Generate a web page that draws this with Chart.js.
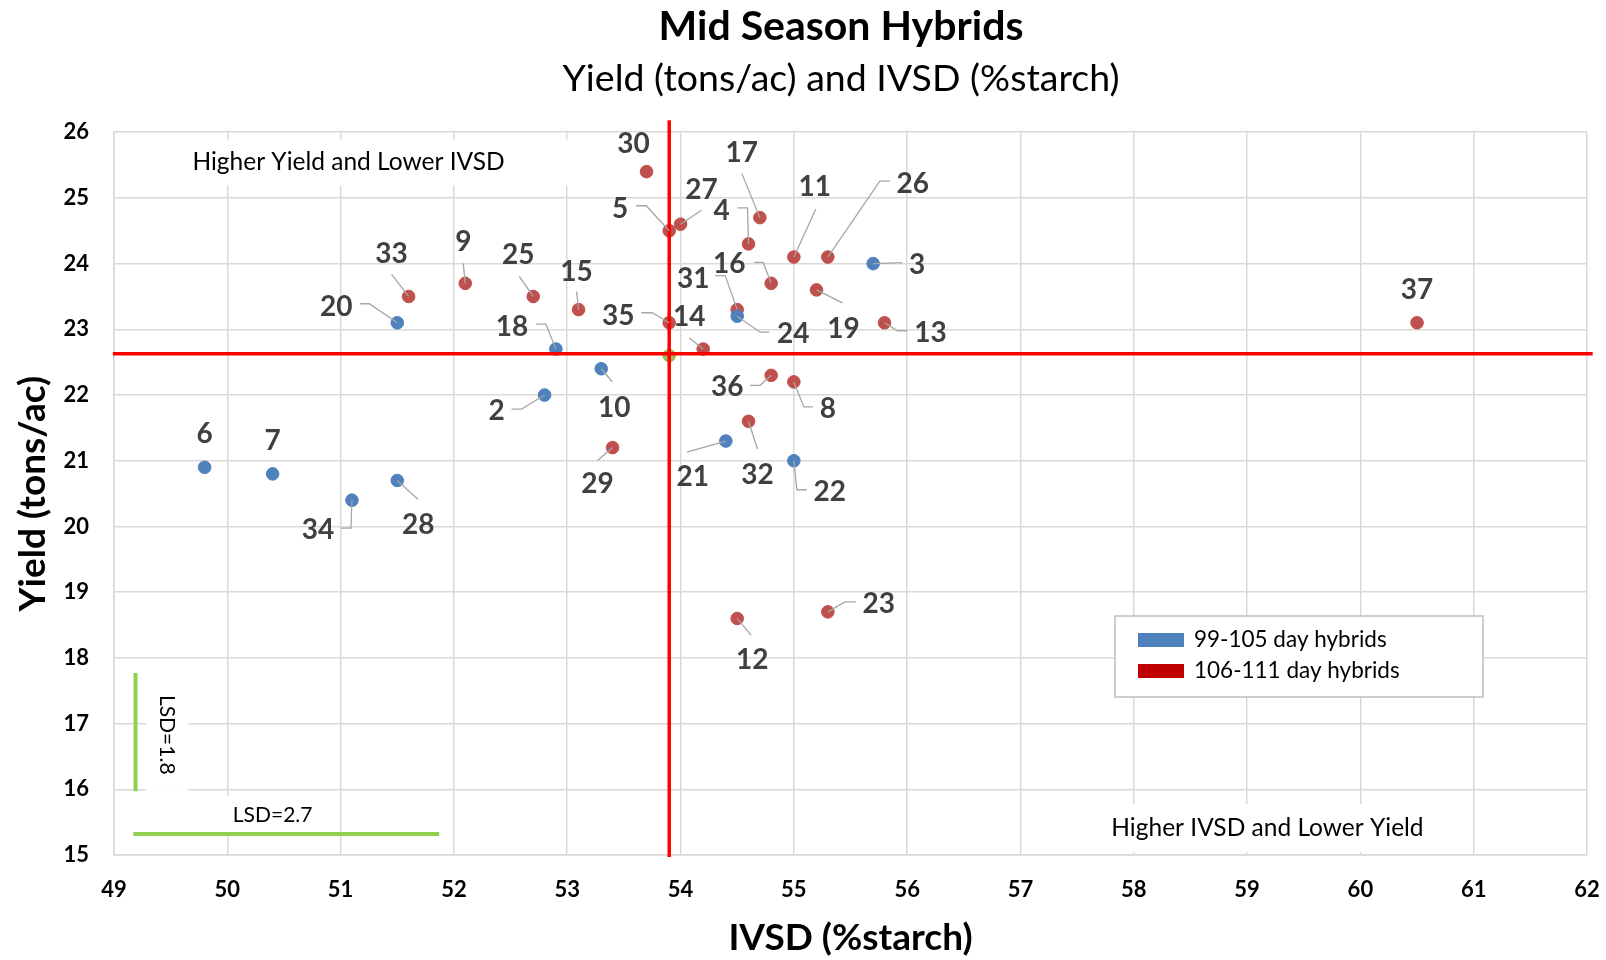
<!DOCTYPE html>
<html>
<head>
<meta charset="utf-8">
<title>Mid Season Hybrids</title>
<script src="https://cdn.jsdelivr.net/npm/chart.js@4.4.1/dist/chart.umd.min.js"></script>
<style>
  html, body { margin: 0; padding: 0; background: #fff; }
  #wrap { width: 1606px; height: 960px; }
</style>
</head>
<body>
<div id="wrap"><canvas id="chart" width="1606" height="960"></canvas></div>
<script>
// 99-105 day hybrids
const earlyIds = [2, 3, 6, 7, 10, 18, 20, 21, 22, 24, 28, 34];
const earlyIvsd = [52.8, 55.7, 49.8, 50.4, 53.3, 52.9, 51.5, 54.4, 55.0, 54.5, 51.5, 51.1];
const earlyYield = [22.0, 24.0, 20.9, 20.8, 22.4, 22.7, 23.1, 21.3, 21.0, 23.2, 20.7, 20.4];

// 106-111 day hybrids
const lateIds = [4, 5, 8, 9, 11, 12, 13, 14, 15, 16, 17, 19, 23, 25, 26, 27, 29, 30, 31, 32, 33, 35, 36, 37];
const lateIvsd = [54.6, 53.9, 55.0, 52.1, 55.0, 54.5, 55.8, 54.2, 53.1, 54.8, 54.7, 55.2, 55.3, 52.7, 55.3, 54.0, 53.4, 53.7, 54.5, 54.6, 51.6, 53.9, 54.8, 60.5];
const lateYield = [24.3, 24.5, 22.2, 23.7, 24.1, 18.6, 23.1, 22.7, 23.3, 23.7, 24.7, 23.6, 18.7, 23.5, 24.1, 24.6, 21.2, 25.4, 23.3, 21.6, 23.5, 23.1, 22.3, 23.1];

// trial mean, where the red quadrant lines cross
const meanIvsd = [53.9];
const meanYield = [22.6];
const quadIvsd = 53.9;
const quadYield = 22.63;

// LSD bars
const lsdYieldX = [49.19, 49.19];
const lsdYieldY = [15.97, 17.77];
const lsdIvsdX = [49.17, 51.87];
const lsdIvsdY = [15.32, 15.32];

// axes
const xMin = 49, xMax = 62;
const yMin = 15, yMax = 26;

const legendLabels = ['99-105 day hybrids', '106-111 day hybrids'];
const legendColors = ['#4F81BD', '#C00000'];

// where each number sits relative to its point (px), and its leader line
const labelLayout = {
  2: { dx: -48, dy: 15, leader: [[-33, 14], [-23, 14]] },
  3: { dx: 44, dy: 0, leader: [[29, -1]] },
  4: { dx: -27, dy: -34, leader: [[-11, -36], [-1, -36]] },
  5: { dx: -49, dy: -23, leader: [[-33, -25], [-23, -25]] },
  6: { dx: 0, dy: -34 },
  7: { dx: 0, dy: -34 },
  8: { dx: 34, dy: 26, leader: [[19, 25], [10, 25]] },
  9: { dx: -2, dy: -42, leader: [[-2, -20]] },
  10: { dx: 13, dy: 38, leader: [[11, 13]] },
  11: { dx: 21, dy: -71, leader: [[22, -48]] },
  12: { dx: 15, dy: 41, leader: [[14, 17]] },
  13: { dx: 46, dy: 9, leader: [[23, 8], [13, 8]] },
  14: { dx: -14, dy: -33, leader: [[-14, -11]] },
  15: { dx: -2, dy: -39, leader: [[-2, -18]] },
  16: { dx: -42, dy: -20, leader: [[-17, -21], [-8, -21]] },
  17: { dx: -18, dy: -66, leader: [[-18, -44]] },
  18: { dx: -44, dy: -23, leader: [[-20, -25], [-10, -25]] },
  19: { dx: 27, dy: 38, leader: [[26, 13]] },
  20: { dx: -61, dy: -17, leader: [[-37, -19], [-28, -19]] },
  21: { dx: -33, dy: 35, leader: [[-39, 11]] },
  22: { dx: 36, dy: 30, leader: [[13, 29], [3, 29]] },
  23: { dx: 51, dy: -9, leader: [[28, -10], [17, -10]] },
  24: { dx: 56, dy: 17, leader: [[32, 16], [23, 16]] },
  25: { dx: -15, dy: -42, leader: [[-14, -20]] },
  26: { dx: 85, dy: -74, leader: [[62, -76], [52, -76]] },
  27: { dx: 21, dy: -35, leader: [[21, -14]] },
  28: { dx: 21, dy: 44, leader: [[21, 19]] },
  29: { dx: -15, dy: 35, leader: [[-15, 13]] },
  30: { dx: -13, dy: -29 },
  31: { dx: -44, dy: -32, leader: [[-22, -34], [-12, -34]] },
  32: { dx: 9, dy: 53, leader: [[9, 28]] },
  33: { dx: -17, dy: -43, leader: [[-17, -22]] },
  34: { dx: -34, dy: 29, leader: [[-11, 28], [-1, 28]] },
  35: { dx: -51, dy: -8, leader: [[-28, -10], [-17, -10]] },
  36: { dx: -44, dy: 11, leader: [[-21, 10], [-11, 10]] },
  37: { dx: 0, dy: -34 }
};

// text boxes drawn on the plot (white fill hides the grid)
const notes = [
  { text: 'Higher Yield and Lower IVSD', x: 51.07, y: 25.54, w: 460, h: 46, size: 24.5, rot: 0 },
  { text: 'Higher IVSD and Lower Yield', x: 59.18, y: 15.41, w: 345, h: 48, size: 24.5, rot: 0 },
  { text: 'LSD=1.8', x: 49.47, y: 16.83, w: 42, h: 112, size: 21, rot: Math.PI / 2 },
  { text: 'LSD=2.7', x: 50.40, y: 15.61, w: 116, h: 38, size: 21, rot: 0 }
];

const fontFamily = 'Lato, "Open Sans", sans-serif';

const toPoints = (xs, ys) => xs.map((x, i) => ({ x: x, y: ys[i] }));

// the original titles are centred a bit right of the canvas middle
const shiftTitles = {
  id: 'shiftTitles',
  afterLayout(chart) {
    chart.boxes.filter(b => b.position === 'top').forEach(b => {
      b.left = 95;
    });
  }
};

const notesPlugin = {
  id: 'notes',
  beforeDatasetsDraw(chart) {
    const ctx = chart.ctx;
    const xs = chart.scales.x, ys = chart.scales.y;
    notes.forEach(n => {
      const cx = xs.getPixelForValue(n.x);
      const cy = ys.getPixelForValue(n.y);
      ctx.save();
      ctx.translate(cx, cy);
      ctx.fillStyle = '#fff';
      ctx.fillRect(-n.w / 2, -n.h / 2, n.w, n.h);
      ctx.rotate(n.rot);
      ctx.fillStyle = '#000';
      ctx.font = n.size + 'px ' + fontFamily;
      ctx.textAlign = 'center';
      ctx.textBaseline = 'middle';
      ctx.fillText(n.text, 0, 0);
      ctx.restore();
    });
  }
};

const pointLabels = {
  id: 'pointLabels',
  afterDatasetsDraw(chart) {
    const ctx = chart.ctx;
    ctx.save();
    [[2, earlyIds], [3, lateIds]].forEach(([di, ids]) => {
      const meta = chart.getDatasetMeta(di);
      meta.data.forEach((pt, i) => {
        const lay = labelLayout[ids[i]];
        if (lay.leader) {
          ctx.strokeStyle = '#A6A6A6';
          ctx.lineWidth = 1.3;
          ctx.beginPath();
          ctx.moveTo(pt.x + lay.leader[0][0], pt.y + lay.leader[0][1]);
          lay.leader.slice(1).forEach(p => ctx.lineTo(pt.x + p[0], pt.y + p[1]));
          ctx.lineTo(pt.x, pt.y);
          ctx.stroke();
        }
        ctx.fillStyle = '#404040';
        ctx.font = 'bold 28px ' + fontFamily;
        ctx.textAlign = 'center';
        ctx.textBaseline = 'alphabetic';
        ctx.fillText(String(ids[i]), pt.x + lay.dx, pt.y + lay.dy + 10);
      });
    });
    ctx.restore();
  }
};

const boxLegend = {
  id: 'boxLegend',
  afterDraw(chart) {
    const ctx = chart.ctx;
    const left = 1115, top = 616, w = 368, h = 81;
    ctx.save();
    ctx.fillStyle = '#fff';
    ctx.fillRect(left, top, w, h);
    ctx.strokeStyle = '#BFBFBF';
    ctx.lineWidth = 1.5;
    ctx.strokeRect(left, top, w, h);
    ctx.font = '22.5px ' + fontFamily;
    ctx.textAlign = 'left';
    ctx.textBaseline = 'middle';
    legendLabels.forEach((label, i) => {
      const cy = top + 24 + i * 31;
      ctx.fillStyle = legendColors[i];
      ctx.fillRect(left + 23, cy - 7, 46, 14);
      ctx.fillStyle = '#000';
      ctx.fillText(label, left + 79, cy);
    });
    ctx.restore();
  }
};

const tickFont = { family: fontFamily, size: 22, weight: 'bold' };
const titleFont = { family: fontFamily, size: 37, weight: 'bold' };

new Chart(document.getElementById('chart'), {
  type: 'scatter',
  data: {
    datasets: [
      {
        label: 'quadrant IVSD',
        data: toPoints([quadIvsd, quadIvsd], [yMin - 0.03, yMax + 0.18]),
        showLine: true, borderColor: '#FF0000', borderWidth: 3.5,
        pointRadius: 0, clip: false, order: 0
      },
      {
        label: 'quadrant yield',
        data: toPoints([xMin - 0.01, xMax + 0.05], [quadYield, quadYield]),
        showLine: true, borderColor: '#FF0000', borderWidth: 3.5,
        pointRadius: 0, clip: false, order: 0
      },
      {
        label: legendLabels[0],
        data: toPoints(earlyIvsd, earlyYield),
        backgroundColor: '#4F81BD', borderColor: '#4F81BD',
        pointRadius: 6.3, order: 1
      },
      {
        label: legendLabels[1],
        data: toPoints(lateIvsd, lateYield),
        backgroundColor: '#C0504D', borderColor: '#C0504D',
        pointRadius: 6.3, order: 1
      },
      {
        label: 'mean',
        data: toPoints(meanIvsd, meanYield),
        backgroundColor: '#9BBB59', borderColor: '#9BBB59',
        pointRadius: 6.3, order: 2
      },
      {
        label: 'LSD yield',
        data: toPoints(lsdYieldX, lsdYieldY),
        showLine: true, borderColor: '#92D050', borderWidth: 4,
        pointRadius: 0, clip: false, order: 3
      },
      {
        label: 'LSD IVSD',
        data: toPoints(lsdIvsdX, lsdIvsdY),
        showLine: true, borderColor: '#92D050', borderWidth: 4,
        pointRadius: 0, clip: false, order: 3
      }
    ]
  },
  options: {
    responsive: false,
    animation: false,
    events: [],
    layout: { padding: { left: 0, right: 19, top: 0, bottom: 0 } },
    plugins: {
      legend: { display: false },
      tooltip: { enabled: false },
      title: {
        display: true,
        text: 'Mid Season Hybrids',
        color: '#000',
        font: { family: fontFamily, size: 41, weight: 'bold' },
        padding: { top: 2, bottom: 0 }
      },
      subtitle: {
        display: true,
        text: 'Yield (tons/ac) and IVSD (%starch)',
        color: '#000',
        font: { family: fontFamily, size: 37.5, weight: 'normal' },
        padding: { top: 5, bottom: 31 }
      }
    },
    scales: {
      x: {
        type: 'linear',
        min: xMin, max: xMax,
        ticks: { stepSize: 1, color: '#000', font: tickFont, padding: 22 },
        grid: { color: '#D9D9D9', lineWidth: 1.5, drawTicks: false },
        border: { color: '#D9D9D9', width: 1.5 },
        title: { display: true, text: 'IVSD (%starch)', color: '#000', font: titleFont, padding: { top: 0, bottom: 0 } },
        afterFit: s => { s.height = 105; s.paddingLeft = 0; s.paddingRight = 0; }
      },
      y: {
        type: 'linear',
        min: yMin, max: yMax,
        ticks: { stepSize: 1, color: '#000', font: tickFont, padding: 25 },
        grid: { color: '#D9D9D9', lineWidth: 1.5, drawTicks: false },
        border: { color: '#D9D9D9', width: 1.5 },
        title: { display: true, text: 'Yield (tons/ac)', color: '#000', font: titleFont, padding: { top: 11, bottom: 0 } },
        afterFit: s => { s.width = 114; s.paddingTop = 0; s.paddingBottom = 0; }
      }
    }
  },
  plugins: [shiftTitles, notesPlugin, pointLabels, boxLegend]
});
</script>
</body>
</html>
